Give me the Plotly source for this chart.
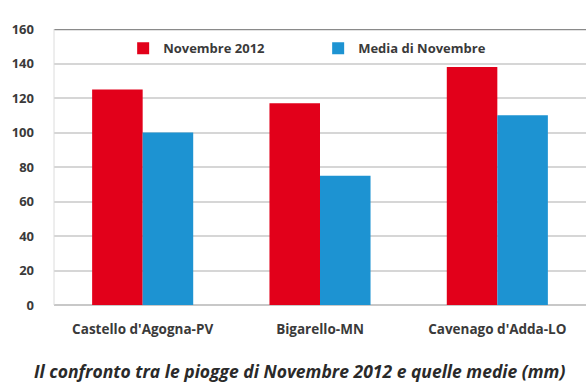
import plotly.graph_objects as go

# Precipitation in November 2012 vs. the November average (mm)
stations = ["Castello d'Agogna-PV", "Bigarello-MN", "Cavenago d'Adda-LO"]
nov_2012 = [125, 117, 138]
nov_mean = [100, 75, 110]
y_ticks = [0, 20, 40, 60, 80, 100, 120, 140, 160]

RED = "#E2001A"
BLUE = "#1D93D2"
FONT = "Open Sans"
TXT = "#3a3a3a"

fig = go.Figure()
fig.add_trace(go.Bar(name="Novembre 2012", x=stations, y=nov_2012,
                     marker=dict(color=RED, line=dict(width=0))))
fig.add_trace(go.Bar(name="Media di Novembre", x=stations, y=nov_mean,
                     marker=dict(color=BLUE, line=dict(width=0))))

fig.update_layout(
    width=586, height=382,
    margin=dict(l=54, r=0, t=29, b=77),
    paper_bgcolor="white", plot_bgcolor="white",
    barmode="group", bargap=0.43, bargroupgap=0,
    font=dict(family=FONT, color=TXT, size=12),
    showlegend=True,
    legend=dict(orientation="h", x=0.13, y=0.93, xanchor="left", yanchor="middle",
                bgcolor="rgba(0,0,0,0)", itemwidth=30, entrywidth=150,
                font=dict(size=13, weight="bold", color=TXT)),
    xaxis=dict(showgrid=False, showline=False, ticks="", ticklabelstandoff=14,
               tickfont=dict(size=13.5, weight="bold", color=TXT)),
    yaxis=dict(range=[0, 160], tickvals=y_ticks, showgrid=True, gridcolor="#d6d6d6",
               gridwidth=1.5, zeroline=True, zerolinecolor="#c8c8c8", zerolinewidth=1.5,
               showline=False, ticks="", ticklabelstandoff=19,
               tickfont=dict(size=13, weight="bold", color=TXT)),
    annotations=[dict(
        text="Il confronto tra le piogge di Novembre 2012 e quelle medie (mm)",
        xref="paper", yref="paper", x=0.461, y=-0.24, xanchor="center", yanchor="middle",
        showarrow=False,
        font=dict(family=FONT, size=17.5, weight="bold", style="italic", color="#2a2a2a"))],
    shapes=[
        dict(type="line", xref="paper", yref="y", x0=0, x1=1, y0=160, y1=160,
             line=dict(color="#8a8a8a", width=2.5)),
        dict(type="line", xref="paper", yref="paper", x0=0, x1=0, y0=0, y1=1,
             line=dict(color="#dcdcdc", width=1)),
    ],
)

fig.write_html("out.html")
